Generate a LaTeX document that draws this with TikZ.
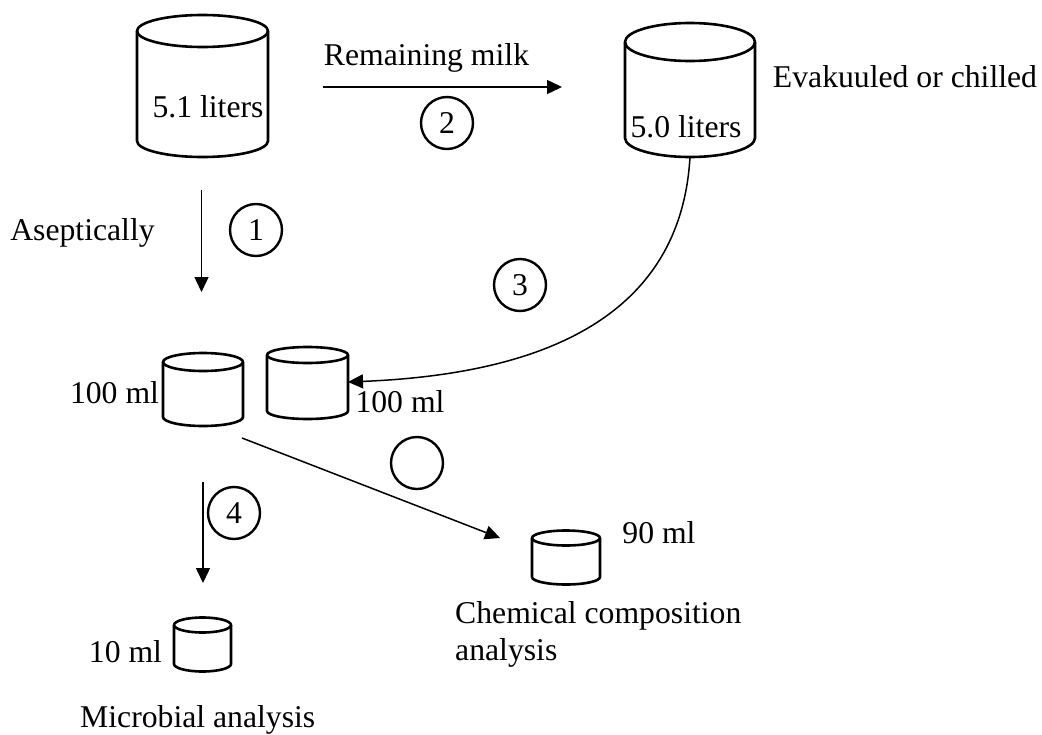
\documentclass[tikz,border=0pt]{standalone}
\usepackage{fontspec}
\setmainfont{Liberation Serif}
\usetikzlibrary{arrows.meta}
\newcommand\mycyl[5]{% cx, rx, ytop, ybot, ry
  \draw[cylline] (#1,#3) ellipse [x radius=#2, y radius=#5];
  \draw[cylline] (#1-#2,#3) -- (#1-#2,#4) arc[start angle=180, end angle=0, x radius=#2, y radius=#5] -- (#1+#2,#3);
}
\tikzset{
  cylline/.style={line width=2.6pt, line join=round},
  lbl/.style={font=\fontsize{31.7}{37}\selectfont, inner sep=0pt, anchor=base},
  num/.style={circle, draw, line width=2.4pt, minimum size=52pt, inner sep=0pt, font=\fontsize{31.7}{37}\selectfont},
  conn/.style={line width=1.5pt, -{Triangle[length=15pt, width=14pt]}},
}
\begin{document}
\begin{tikzpicture}[x=1pt,y=-1pt]
\useasboundingbox (0,0) rectangle (1042,734);
% cylinders
\mycyl{202.5}{65.5}{31}{141}{16}
\mycyl{690}{65}{42}{138}{19}
\mycyl{203}{40}{362}{417}{9}
\mycyl{307.5}{40.5}{355}{411}{8}
\mycyl{566}{34}{538}{577}{7.5}
\mycyl{202.5}{28.5}{625}{664}{7.5}
% labels
\node[lbl] (l51) at (208,117) {5.1 liters};
\node[lbl] (l50) at (686,137) {5.0 liters};
\node[lbl] (rem) at (426.5,65) {Remaining milk};
\node[lbl] (eva) at (905,87) {Evakuuled or chilled};
\node[lbl] (ase) at (82.5,240) {Aseptically};
\node[lbl] (m100a) at (114.5,403) {100 ml};
\node[lbl] (m100b) at (400,412) {100 ml};
\node[lbl] (m90) at (659,543) {90 ml};
\node[lbl] (m10) at (125.5,662) {10 ml};
\node[lbl, anchor=base west, align=left] (chem) at (455,660) {Chemical composition\\analysis};
\node[lbl, anchor=base west] (micro) at (80,727) {Microbial analysis};
% numbered circles
\node[num] (n1) at (256,230) {1};
\node[num] (n2) at (447,123) {2};
\node[num] (n3) at (520,285) {3};
\node[num] (n5) at (417,463) {};
\node[num] (n4) at (234,513) {4};
% connector end points
\coordinate (a1s) at (201.5,190);
\coordinate (a1e) at (201.5,292);
\coordinate (a2s) at (323,87);
\coordinate (a2e) at (562,87);
\coordinate (a3s) at (690,157);
\coordinate (a3e) at (348,382);
\coordinate (a4s) at (203,482);
\coordinate (a4e) at (203,583);
\coordinate (a5s) at (242,438);
\coordinate (a5e) at (500,538);
% connectors
\draw[conn] (a1s) -- (a1e);
\draw[conn] (a2s) -- (a2e);
\draw[conn] (a3s) .. controls (680,330) and (520,375) .. (a3e);
\draw[conn] (a4s) -- (a4e);
\draw[conn] (a5s) -- (a5e);
\end{tikzpicture}
\end{document}
